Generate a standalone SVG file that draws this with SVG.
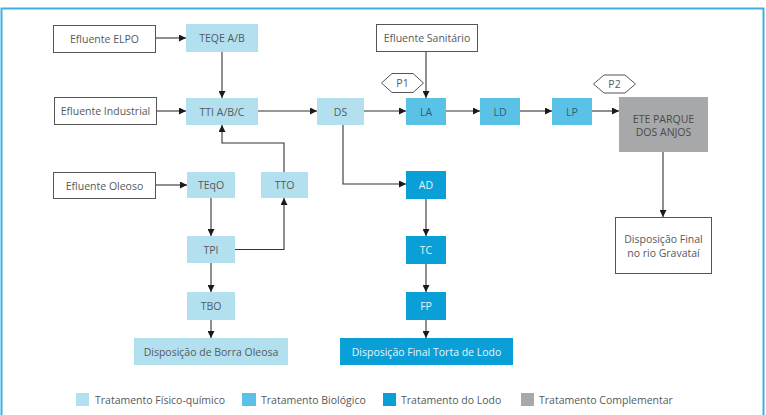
<svg xmlns="http://www.w3.org/2000/svg" width="766" height="415" viewBox="0 0 766 415">
<defs>
<marker id="arr" viewBox="0 0 10 10" refX="10" refY="5" markerWidth="7" markerHeight="7" markerUnits="userSpaceOnUse" orient="auto">
<path d="M0,0 L10,5 L0,10 z" fill="#1a1a1a"/>
</marker>
<style>
text{font-family:"Open Sans","Liberation Sans",sans-serif;font-size:10.5px;fill:#555a5e;text-anchor:middle;dominant-baseline:central}
.src{fill:#fff;stroke:#555;stroke-width:1}
.fq{fill:#b3e0ef}
.bio{fill:#5bc2e7}
.lodo{fill:#0a9fd6}
.comp{fill:#a7a8aa}
.dia{fill:#fff;stroke:#555;stroke-width:1}
.w{fill:#e6f5fb}
.lg{text-anchor:start}
#connectors path{fill:none;stroke:#333;stroke-width:1.1}
</style>
</defs>
<rect x="1.5" y="8.5" width="762" height="420" fill="#fff" stroke="#3cb0e2" stroke-width="2"/>

<g id="connectors">
<path d="M155,38 H186" marker-end="url(#arr)"/>
<path d="M222,52 V98" marker-end="url(#arr)"/>
<path d="M156,111 H186" marker-end="url(#arr)"/>
<path d="M258,111 H317" marker-end="url(#arr)"/>
<path d="M364,111 H406" marker-end="url(#arr)"/>
<path d="M426,52 V98" marker-end="url(#arr)"/>
<path d="M446,111 H480" marker-end="url(#arr)"/>
<path d="M520,111 H552" marker-end="url(#arr)"/>
<path d="M592,111 H619" marker-end="url(#arr)"/>
<path d="M663,152 V217" marker-end="url(#arr)"/>
<path d="M343,125 V184 H406" marker-end="url(#arr)"/>
<path d="M284,172 V143 H222 V125" marker-end="url(#arr)"/>
<path d="M155,185 H187" marker-end="url(#arr)"/>
<path d="M211,198 V236" marker-end="url(#arr)"/>
<path d="M235,249.5 H284 V198" marker-end="url(#arr)"/>
<path d="M211,263 V292" marker-end="url(#arr)"/>
<path d="M211,320 V338" marker-end="url(#arr)"/>
<path d="M426,199 V236" marker-end="url(#arr)"/>
<path d="M426,264 V292" marker-end="url(#arr)"/>
<path d="M426,320 V338" marker-end="url(#arr)"/>
</g>

<g id="elpo"><rect class="src" x="53.5" y="25.5" width="102" height="27"/><text x="104.5" y="39">Efluente ELPO</text></g>
<g id="teqe"><rect class="fq" x="186" y="24" width="72" height="28"/><text x="222" y="38">TEQE A/B</text></g>
<g id="industrial"><rect class="src" x="54.5" y="97.5" width="102" height="27"/><text x="105.5" y="111">Efluente Industrial</text></g>
<g id="tti"><rect class="fq" x="186" y="98" width="72" height="27"/><text x="222" y="111.5">TTI A/B/C</text></g>
<g id="ds"><rect class="fq" x="317" y="98" width="47" height="27"/><text x="340.5" y="111.5">DS</text></g>
<g id="sanitario"><rect class="src" x="376.5" y="24.5" width="101" height="27"/><text x="427" y="38">Efluente Sanitário</text></g>
<g id="p1"><path class="dia" d="M381.5,83 L392,73.5 H413 L423.5,83 L413,92.5 H392 Z"/><text x="402.5" y="83">P1</text></g>
<g id="la"><rect class="bio" x="406" y="98" width="40" height="27"/><text x="426" y="111.5" style="fill:#2f5f78">LA</text></g>
<g id="ld"><rect class="bio" x="480" y="98" width="40" height="27"/><text x="500" y="111.5" style="fill:#2f5f78">LD</text></g>
<g id="lp"><rect class="bio" x="552" y="98" width="40" height="27"/><text x="572" y="111.5" style="fill:#2f5f78">LP</text></g>
<g id="p2"><path class="dia" d="M593.5,84 L604,75 H625 L635.5,84 L625,93 H604 Z"/><text x="614.5" y="84">P2</text></g>
<g id="ete"><rect class="comp" x="619" y="97" width="89" height="55"/><text x="663.5" y="119" style="fill:#4a4a4a">ETE PARQUE</text><text x="663.5" y="132" style="fill:#4a4a4a">DOS ANJOS</text></g>
<g id="gravatai"><rect class="src" x="615.5" y="217.5" width="96" height="56"/><text x="663.5" y="239">Disposição Final</text><text x="663.5" y="253">no rio Gravataí</text></g>
<g id="oleoso"><rect class="src" x="53.5" y="172.5" width="102" height="26"/><text x="104.5" y="185.5">Efluente Oleoso</text></g>
<g id="teqo"><rect class="fq" x="187" y="172" width="48" height="26"/><text x="211" y="185">TEqO</text></g>
<g id="tto"><rect class="fq" x="261" y="172" width="47" height="26"/><text x="284.5" y="185">TTO</text></g>
<g id="tpi"><rect class="fq" x="187" y="236" width="48" height="27"/><text x="211" y="249.5">TPI</text></g>
<g id="tbo"><rect class="fq" x="187" y="292" width="48" height="28"/><text x="211" y="306">TBO</text></g>
<g id="borra"><rect class="fq" x="134" y="338" width="154" height="27"/><text x="211" y="351.5">Disposição de Borra Oleosa</text></g>
<g id="ad"><rect class="lodo" x="406" y="171" width="40" height="28"/><text class="w" x="426" y="185">AD</text></g>
<g id="tc"><rect class="lodo" x="406" y="236" width="40" height="28"/><text class="w" x="426" y="250">TC</text></g>
<g id="fp"><rect class="lodo" x="406" y="292" width="40" height="28"/><text class="w" x="426" y="306">FP</text></g>
<g id="torta"><rect class="lodo" x="340" y="338" width="173" height="27"/><text class="w" x="426.5" y="351.5">Disposição Final Torta de Lodo</text></g>

<g id="legend">
<rect class="fq" x="76" y="393" width="13" height="13"/><text class="lg" x="95" y="399.5">Tratamento Físico-químico</text>
<rect class="bio" x="242" y="393" width="14" height="13"/><text class="lg" x="261" y="399.5">Tratamento Biológico</text>
<rect class="lodo" x="383" y="393" width="13" height="13"/><text class="lg" x="401" y="399.5">Tratamento do Lodo</text>
<rect class="comp" x="521" y="393" width="13" height="13"/><text class="lg" x="539" y="399.5">Tratamento Complementar</text>
</g>
</svg>
